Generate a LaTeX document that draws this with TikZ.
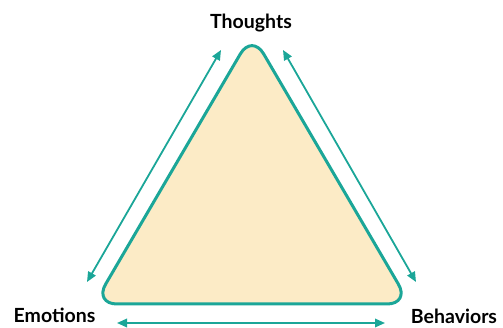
\documentclass[tikz,border=0pt]{standalone}
\usepackage{fontspec}
\setmainfont{Lato}
\usetikzlibrary{arrows.meta}
\definecolor{tealline}{HTML}{1BA698}
\definecolor{peachfill}{HTML}{FCEBC6}
\tikzset{
  link/.style={{Triangle[length=10pt,width=8.5pt]}-{Triangle[length=10pt,width=8.5pt]}, line width=1.8pt, tealline},
  corner/.style={font=\bfseries\fontsize{19.5}{22}\selectfont, anchor=base, inner sep=0pt}
}

\begin{document}
\begin{tikzpicture}[x=1pt, y=-1pt]
    \useasboundingbox (0,0) rectangle (503,328);

    % Triangle
    \draw[tealline, line width=3pt, fill=peachfill, rounded corners=23pt]
        (252,34) -- (410,304) -- (94,304) -- cycle;

    % Labels
    \node[corner] (thoughts) at (251,29) {Thoughts};
    \node[corner] (emotions) at (54.5,323) {Emotions};
    \node[corner] (behaviors) at (454,324) {Behaviors};

    % Arrow ends
    \coordinate (tl) at (221,50);
    \coordinate (tr) at (283,50);
    \coordinate (lb) at (87,282);
    \coordinate (rb) at (416,282);
    \coordinate (bl) at (117,323);
    \coordinate (br) at (385,323);

    % Arrows
    \draw[link] (lb) -- (tl);
    \draw[link] (tr) -- (rb);
    \draw[link] (bl) -- (br);
\end{tikzpicture}
\end{document}
